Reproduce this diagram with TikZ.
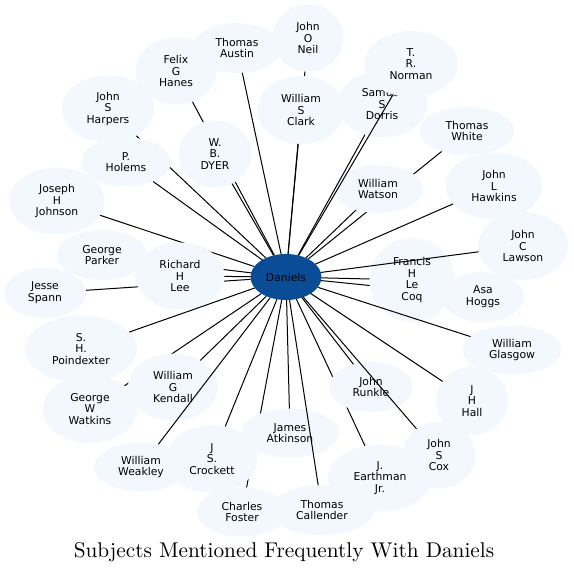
\documentclass[tikz,border=0pt]{standalone}
\usepackage{fontspec}
\newfontfamily\nodefont{DejaVu Sans}
\newfontfamily\titlefont{lmroman10-regular.otf}
\usetikzlibrary{shapes.geometric}
\definecolor{leaf}{HTML}{F3F8FF}
\definecolor{hub}{HTML}{0A4C96}
\pgfdeclarelayer{background}
\pgfdeclarelayer{foreground}
\pgfsetlayers{background,main,foreground}
\tikzset{
  leafnode/.style={ellipse, fill=leaf, draw=none, inner sep=0pt, outer sep=0pt,
    align=center, font=\nodefont\fontsize{10.8}{11.7}\selectfont},
  hubnode/.style={ellipse, fill=hub, draw=none, inner sep=0pt, outer sep=0pt,
    minimum width=71pt, minimum height=46pt, font=\nodefont\fontsize{10.8}{11.7}\selectfont},
  link/.style={line width=1pt, black},
  titlenode/.style={font=\titlefont\fontsize{21.3}{25}\selectfont, anchor=base, inner sep=0pt}
}
\begin{document}
\begin{tikzpicture}[x=1pt,y=-1pt]
\useasboundingbox (0,0) rectangle (574,574);
% nodes
\node[leafnode, minimum width=71pt, minimum height=67pt] (oneil) at (308,38) {John\\O\\Neil};
\node[leafnode, minimum width=90pt, minimum height=50pt] (austin) at (237,48) {Thomas\\Austin};
\node[leafnode, minimum width=81pt, minimum height=67pt] (hanes) at (176,71) {Felix\\G\\Hanes};
\node[leafnode, minimum width=93pt, minimum height=67pt] (harpers) at (108,109) {John\\S\\Harpers};
\node[leafnode, minimum width=90pt, minimum height=49pt] (holems) at (126,162) {P.\\Holems};
\node[leafnode, minimum width=73pt, minimum height=67pt] (dyer) at (215,154) {W.\\B.\\DYER};
\node[leafnode, minimum width=95pt, minimum height=67pt] (johnson) at (57,201) {Joseph\\H\\Johnson};
\node[leafnode, minimum width=90pt, minimum height=50pt] (parker) at (102,255) {George\\Parker};
\node[leafnode, minimum width=89pt, minimum height=67pt] (lee) at (180,276) {Richard\\H\\Lee};
\node[leafnode, minimum width=82pt, minimum height=50pt] (spann) at (45,293) {Jesse\\Spann};
\node[leafnode, minimum width=112pt, minimum height=67pt] (poindexter) at (81,349) {S.\\H.\\Poindexter};
\node[leafnode, minimum width=90pt, minimum height=67pt] (kendall) at (173,387) {William\\G\\Kendall};
\node[leafnode, minimum width=94pt, minimum height=68pt] (watkins) at (90,409) {George\\W\\Watkins};
\node[leafnode, minimum width=94pt, minimum height=49pt] (weakley) at (141,467) {William\\Weakley};
\node[leafnode, minimum width=91pt, minimum height=68pt] (crockett) at (212,459) {J\\S.\\Crockett};
\node[leafnode, minimum width=90pt, minimum height=49pt] (foster) at (242,512) {Charles\\Foster};
\node[leafnode, minimum width=98pt, minimum height=49pt] (atkinson) at (290,433) {James\\Atkinson};
\node[leafnode, minimum width=104pt, minimum height=50pt] (callender) at (322,510) {Thomas\\Callender};
\node[leafnode, minimum width=104pt, minimum height=67pt] (earthman) at (380,478) {J.\\Earthman\\Jr.};
\node[leafnode, minimum width=84pt, minimum height=50pt] (runkle) at (371,387) {John\\Runkle};
\node[leafnode, minimum width=72pt, minimum height=67pt] (cox) at (439,455) {John\\S\\Cox};
\node[leafnode, minimum width=72pt, minimum height=68pt] (hall) at (472,401) {J\\H\\Hall};
\node[leafnode, minimum width=99pt, minimum height=49pt] (glasgow) at (512,350) {William\\Glasgow};
\node[leafnode, minimum width=82pt, minimum height=50pt] (hoggs) at (483,297) {Asa\\Hoggs};
\node[leafnode, minimum width=85pt, minimum height=84pt] (lecoq) at (412,280) {Francis\\H\\Le\\Coq};
\node[leafnode, minimum width=90pt, minimum height=68pt] (lawson) at (523,246) {John\\C\\Lawson};
\node[leafnode, minimum width=97pt, minimum height=67pt] (hawkins) at (494,186) {John\\L\\Hawkins};
\node[leafnode, minimum width=95pt, minimum height=48pt] (white) at (467,131) {Thomas\\White};
\node[leafnode, minimum width=90pt, minimum height=48pt] (watson) at (378,189) {William\\Watson};
\node[leafnode, minimum width=88pt, minimum height=68pt] (clark) at (301,110) {William\\S\\Clark};
\node[leafnode, minimum width=90pt, minimum height=66pt] (dorris) at (382,104) {Samuel\\S\\Dorris};
\node[leafnode, minimum width=93pt, minimum height=66pt] (norman) at (411,64) {T.\\R.\\Norman};
\node[hubnode] (daniels) at (286,277) {Daniels};
\node[titlenode] (title) at (284,557) {Subjects Mentioned Frequently With Daniels};
% edges hidden beneath nodes
\begin{pgfonlayer}{background}
\foreach \n in {hanes,harpers,johnson,parker,spann,watkins,foster,earthman,hoggs,white,oneil}
  \draw[link] (daniels) -- (\n);
\end{pgfonlayer}
% edges drawn over nodes
\begin{pgfonlayer}{foreground}
\foreach \n in {austin,holems,dyer,lee,poindexter,kendall,weakley,crockett,atkinson,callender,runkle,cox,hall,glasgow,lecoq,lawson,hawkins,watson,dorris,norman,clark}
  \draw[link] (daniels) -- (\n);
\end{pgfonlayer}
\end{tikzpicture}
\end{document}
